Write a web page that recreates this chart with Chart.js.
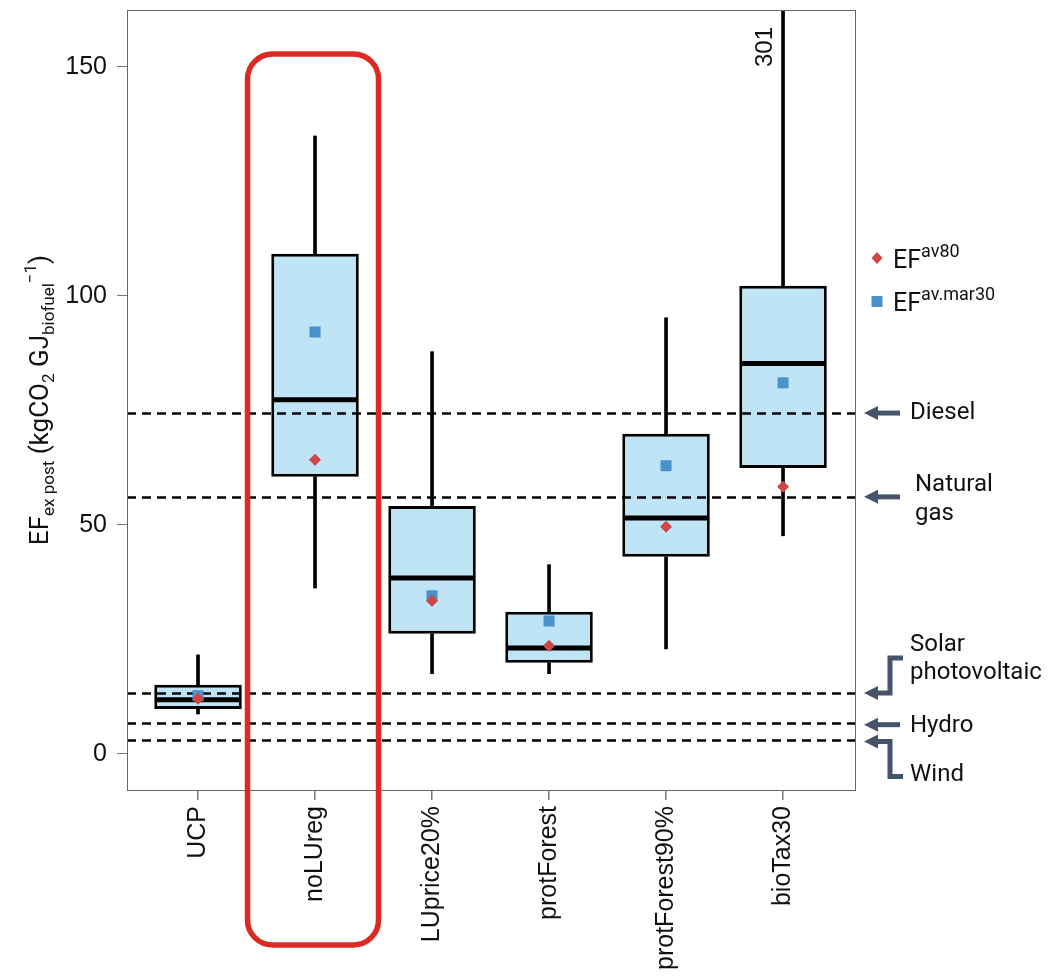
<!DOCTYPE html>
<html>
<head>
<meta charset="utf-8">
<script src="https://cdn.jsdelivr.net/npm/chart.js@4.4.1/dist/chart.umd.min.js"></script>
<style>
html, body { margin: 0; padding: 0; background: #fff; }
#wrap { width: 1063px; height: 979px; }
</style>
</head>
<body>
<div id="wrap"><canvas id="efChart" width="1063" height="979"></canvas></div>
<script>
// scenarios and box statistics (kgCO2 per GJ biofuel)
const scenarios = ['UCP', 'noLUreg', 'LUprice20%', 'protForest', 'protForest90%', 'bioTax30'];
const whiskerLow = [8.7, 36.2, 17.5, 17.5, 22.9, 47.6];
const q1 = [9.8, 60.5, 26.2, 19.9, 43.0, 62.4];
const median = [11.8, 77.3, 38.4, 23.1, 51.5, 85.2];
const q3 = [15.1, 109.2, 54.1, 31.0, 69.9, 102.2];
const whiskerHigh = [21.6, 134.9, 87.8, 41.3, 95.2, 301];
const efAv80 = [12.0, 64.2, 33.4, 23.6, 49.6, 58.3];
const efAvMar30 = [12.7, 92.1, 34.5, 29.0, 62.9, 81.0];
const yTicks = [0, 50, 100, 150];

// reference fuels (dashed lines)
const refNames = ['Diesel', 'Natural gas', 'Solar photovoltaic', 'Hydro', 'Wind'];
const refValues = [74.4, 56.1, 13.3, 6.8, 3.1];

const TICK_FONT = '"Liberation Sans", Arial, sans-serif';
const NOTE_FONT = 'Roboto, "Noto Sans", sans-serif';
const ARROW = '#46546b';

function richText(ctx, parts, x, y) {
	// parts: [text, size, dy]
	let pos = x;
	for (const [t, size, dy] of parts) {
		ctx.font = size + 'px ' + NOTE_FONT;
		ctx.fillText(t, pos, y + dy);
		pos += ctx.measureText(t).width;
	}
	return pos;
}

function richWidth(ctx, parts) {
	let w = 0;
	for (const [t, size] of parts) {
		ctx.font = size + 'px ' + NOTE_FONT;
		w += ctx.measureText(t).width;
	}
	return w;
}

function arrowHead(ctx, x, y) {
	ctx.beginPath();
	ctx.moveTo(x, y);
	ctx.lineTo(x + 14, y - 7);
	ctx.lineTo(x + 14, y + 7);
	ctx.closePath();
	ctx.fill();
}

const boxPlugin = {
	id: 'boxExtras',
	afterDatasetDraw(chart, args) {
		if (chart.data.datasets[args.index].label !== 'box') return;
		const ctx = chart.ctx;
		const y = chart.scales.y;
		const area = chart.chartArea;
		ctx.save();
		ctx.beginPath();
		ctx.rect(area.left, area.top, area.right - area.left, area.bottom - area.top);
		ctx.clip();
		// medians
		ctx.strokeStyle = '#000';
		ctx.lineWidth = 5;
		args.meta.data.forEach((bar, i) => {
			const py = y.getPixelForValue(median[i]);
			ctx.beginPath();
			ctx.moveTo(bar.x - bar.width / 2 + 2, py);
			ctx.lineTo(bar.x + bar.width / 2 - 2, py);
			ctx.stroke();
		});
		// reference lines
		ctx.lineWidth = 2.5;
		ctx.setLineDash([9, 6]);
		refValues.forEach(v => {
			const py = Math.round(y.getPixelForValue(v)) + 0.5;
			ctx.beginPath();
			ctx.moveTo(area.left, py);
			ctx.lineTo(area.right, py);
			ctx.stroke();
		});
		ctx.restore();
	},
	afterDraw(chart) {
		const ctx = chart.ctx;
		const x = chart.scales.x;
		const y = chart.scales.y;
		const area = chart.chartArea;
		ctx.save();

		// frame
		ctx.strokeStyle = '#666';
		ctx.lineWidth = 1;
		ctx.strokeRect(area.left + 0.5, area.top + 0.5, area.right - area.left, area.bottom - area.top);

		// y axis title
		ctx.save();
		ctx.translate(48, (area.top + area.bottom) / 2);
		ctx.rotate(-Math.PI / 2);
		ctx.fillStyle = '#111';
		ctx.textBaseline = 'alphabetic';
		const title = [
			['EF', 26, 0], ['ex post', 17, 6], [' (kgCO', 26, 0], ['2', 17, 6],
			[' GJ', 26, 0], ['biofuel', 17, 6], ['\u22121', 17, -12], [')', 26, 0]
		];
		richText(ctx, title, -richWidth(ctx, title) / 2, 0);
		ctx.restore();

		// clipped whisker value
		ctx.save();
		ctx.translate(x.getPixelForValue(5) - 18, area.top + 37);
		ctx.rotate(-Math.PI / 2);
		ctx.font = '24px ' + TICK_FONT;
		ctx.fillStyle = '#111';
		ctx.textAlign = 'center';
		ctx.textBaseline = 'middle';
		ctx.fillText(String(whiskerHigh[5]), 0, 0);
		ctx.restore();

		// legend
		const lx = area.right + 22;
		ctx.fillStyle = '#cf4646';
		ctx.beginPath();
		ctx.moveTo(lx, 252); ctx.lineTo(lx + 5.5, 258); ctx.lineTo(lx, 264); ctx.lineTo(lx - 5.5, 258);
		ctx.closePath();
		ctx.fill();
		ctx.fillStyle = '#4a92cb';
		ctx.fillRect(lx - 5.5, 296, 11, 11);
		ctx.fillStyle = '#111';
		richText(ctx, [['EF', 25, 0], ['av80', 18, -11]], lx + 16, 268);
		richText(ctx, [['EF', 25, 0], ['av.mar30', 18, -11]], lx + 16, 311);

		// reference annotations
		const tip = area.right + 9;
		ctx.fillStyle = ARROW;
		ctx.strokeStyle = ARROW;
		ctx.lineWidth = 5;
		ctx.lineJoin = 'miter';
		const straight = py => {
			arrowHead(ctx, tip, py);
			ctx.beginPath();
			ctx.moveTo(tip + 12, py);
			ctx.lineTo(tip + 36, py);
			ctx.stroke();
		};
		const elbow = (py, endY) => {
			arrowHead(ctx, tip, py);
			ctx.beginPath();
			ctx.moveTo(tip + 12, py);
			ctx.lineTo(tip + 26, py);
			ctx.lineTo(tip + 26, endY);
			ctx.lineTo(tip + 39, endY);
			ctx.stroke();
		};
		const pys = refValues.map(v => y.getPixelForValue(v));
		straight(pys[0]);
		straight(pys[1]);
		elbow(pys[2], pys[2] - 35);
		straight(pys[3] + 2);
		elbow(pys[4] + 2, pys[4] + 37);

		ctx.fillStyle = '#111';
		ctx.font = '24px ' + NOTE_FONT;
		ctx.textBaseline = 'middle';
		const tx = area.right + 55;
		ctx.fillText(refNames[0], tx, pys[0]);
		ctx.fillText('Natural', tx + 5, pys[1] - 12);
		ctx.fillText('gas', tx + 5, pys[1] + 17);
		ctx.fillText('Solar', tx, pys[2] - 48);
		ctx.fillText('photovoltaic', tx, pys[2] - 20);
		ctx.fillText(refNames[3], tx, pys[3] + 3);
		ctx.fillText(refNames[4], tx, pys[4] + 35);

		// highlight around noLUreg
		const cx = x.getPixelForValue(1) - 2;
		const left = cx - 65.5, right = cx + 65.5, top = 54, bottom = 945, r = 25;
		ctx.strokeStyle = '#dc2a23';
		ctx.lineWidth = 5.5;
		ctx.beginPath();
		ctx.moveTo(left + r, top);
		ctx.lineTo(right - r, top);
		ctx.arcTo(right, top, right, top + r, r);
		ctx.lineTo(right, bottom - r);
		ctx.arcTo(right, bottom, right - r, bottom, r);
		ctx.lineTo(left + r, bottom);
		ctx.arcTo(left, bottom, left, bottom - r, r);
		ctx.lineTo(left, top + r);
		ctx.arcTo(left, top, left + r, top, r);
		ctx.closePath();
		ctx.stroke();

		ctx.restore();
	}
};

const ctx = document.getElementById('efChart').getContext('2d');

new Chart(ctx, {
	type: 'bar',
	data: {
		datasets: [
			{
				label: 'whiskerLow',
				data: scenarios.map((s, i) => ({ x: i, y: [whiskerLow[i], q1[i]] })),
				backgroundColor: '#000',
				barThickness: 3,
				grouped: false,
				order: 5
			},
			{
				label: 'whiskerHigh',
				data: scenarios.map((s, i) => ({ x: i, y: [q3[i], whiskerHigh[i]] })),
				backgroundColor: '#000',
				barThickness: 3,
				grouped: false,
				order: 4
			},
			{
				label: 'box',
				data: scenarios.map((s, i) => ({ x: i, y: [q1[i], q3[i]] })),
				backgroundColor: '#bfe4f6',
				borderColor: '#000',
				borderWidth: 3,
				borderSkipped: false,
				barPercentage: 0.748,
				categoryPercentage: 1,
				grouped: false,
				order: 3
			},
			{
				type: 'line',
				label: 'EF av.mar30',
				data: scenarios.map((s, i) => ({ x: i, y: efAvMar30[i] })),
				showLine: false,
				pointStyle: 'rect',
				pointRadius: 7.8,
				pointBackgroundColor: '#4a92cb',
				pointBorderWidth: 0,
				order: 2
			},
			{
				type: 'line',
				label: 'EF av80',
				data: scenarios.map((s, i) => ({ x: i, y: efAv80[i] })),
				showLine: false,
				pointStyle: 'rectRot',
				pointRadius: 6,
				pointBackgroundColor: '#cf4646',
				pointBorderWidth: 0,
				order: 1
			}
		]
	},
	options: {
		responsive: false,
		animation: false,
		layout: { padding: { top: 10, right: 208, left: 0, bottom: 0 } },
		plugins: {
			legend: { display: false },
			tooltip: { enabled: false }
		},
		scales: {
			x: {
				type: 'linear',
				min: -0.607,
				max: 5.615,
				offset: false,
				afterBuildTicks: scale => {
					scale.ticks = scenarios.map((s, i) => ({ value: i }));
				},
				afterFit: scale => {
					scale.height = 189;
					scale.paddingLeft = 0;
					scale.paddingRight = 0;
				},
				grid: { offset: false, drawOnChartArea: false, drawTicks: true, tickLength: 10, color: '#777', lineWidth: 1.5 },
				border: { display: true, color: '#666', width: 1 },
				ticks: {
					minRotation: 90,
					maxRotation: 90,
					autoSkip: false,
					padding: 6,
					color: '#111',
					font: { family: TICK_FONT, size: 25 },
					callback: v => scenarios[v] ?? ''
				}
			},
			y: {
				min: -7.9,
				max: 162.4,
				afterBuildTicks: scale => {
					scale.ticks = yTicks.map(v => ({ value: v }));
				},
				afterFit: scale => {
					scale.width = 127;
					scale.paddingTop = 0;
					scale.paddingBottom = 0;
				},
				grid: { drawOnChartArea: false, drawTicks: true, tickLength: 10, color: '#777', lineWidth: 1 },
				border: { display: true, color: '#666', width: 1 },
				ticks: {
					padding: 10,
					color: '#111',
					font: { family: TICK_FONT, size: 25 }
				}
			}
		}
	},
	plugins: [boxPlugin]
});
</script>
</body>
</html>
